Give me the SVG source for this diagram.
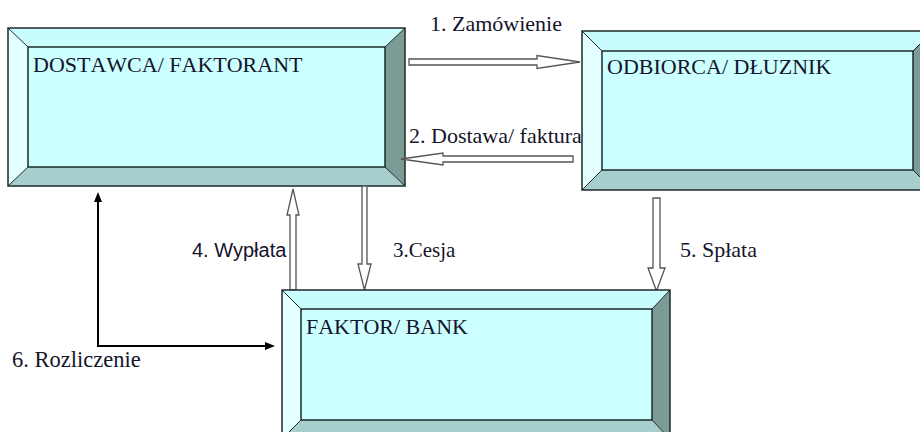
<svg xmlns="http://www.w3.org/2000/svg" width="920" height="432" viewBox="0 0 920 432">
<style>
.top{fill:#c9fdfd}
.left{fill:#e3ffff}
.right{fill:#7b9b97}
.bottom{fill:#a6cecc}
.face{fill:#ccffff}
.edge{stroke:#1e2a2a;stroke-width:1.5;stroke-linejoin:miter}
.diag{stroke:#1e2a2a;stroke-width:1;fill:none}
.serif{font-family:"Liberation Serif","Times New Roman",serif;font-size:22px;fill:#14142a}
.nk{font-kerning:none}
.sans{font-family:"Liberation Sans",Arial,sans-serif;font-size:20px;fill:#14142a}
.hollow{fill:#ffffff;stroke:#555;stroke-width:1.3;stroke-linejoin:miter}
.line{stroke:#000;stroke-width:2;fill:none}
</style>
<defs>
<marker id="ah" markerWidth="10" markerHeight="8" refX="0" refY="4" orient="auto" markerUnits="userSpaceOnUse">
<path d="M0,0 L10,4 L0,8 Z" fill="#000"/>
</marker>
</defs>
<rect width="920" height="432" fill="#ffffff"/>

<g id="node-dostawca">
<polygon class="top" points="8,28 405,28 385,47 28,47"/>
<polygon class="left" points="8,28 28,47 28,167 8,186"/>
<polygon class="right" points="405,28 405,186 385,167 385,47"/>
<polygon class="bottom" points="8,186 28,167 385,167 405,186"/>
<rect class="face edge" x="28" y="47" width="357" height="120"/>
<path class="diag" d="M8,28 L28,47 M405,28 L385,47 M8,186 L28,167 M405,186 L385,167"/>
<rect x="8" y="28" width="397" height="158" fill="none" class="edge"/>
<text class="serif nk" x="33" y="72">DOSTAWCA/ FAKTORANT</text>
</g>

<g id="connectors">
<polygon class="hollow" points="409,59 537,59 537,55.5 580,62 537,68.5 537,65 409,65"/>
<text class="serif" x="430" y="31">1. Zamówienie</text>
<polygon class="hollow" points="573,156 443,156 443,153 401,159 443,165 443,162 573,162"/>
<text class="serif" x="409" y="143">2. Dostawa/ faktura</text>
<polygon class="hollow" points="362,186 362,264 358,264 364.5,290 371,264 367,264 367,186"/>
<text class="serif" x="393" y="257" style="font-size:21px">3.Cesja</text>
<polygon class="hollow" points="290,290 290,215 287,215 293,189 299,215 296,215 296,290"/>
<text class="sans" x="192" y="257">4. Wypłata</text>
<polygon class="hollow" points="653,198 653,268 648,268 656.5,291 665,268 660,268 660,198"/>
<text class="serif" x="680" y="257">5. Spłata</text>
<path class="line" d="M98,346 V202" marker-end="url(#ah)"/>
<path class="line" d="M97,346 H265" marker-end="url(#ah)"/>
<text class="serif" x="12" y="367" style="font-size:22.5px">6. Rozliczenie</text>
</g>

<g id="node-odbiorca">
<polygon class="top" points="582,31 933,31 913,51 602,51"/>
<polygon class="left" points="582,31 602,51 602,170 582,190"/>
<polygon class="right" points="933,31 933,190 913,170 913,51"/>
<polygon class="bottom" points="582,190 602,170 913,170 933,190"/>
<rect class="face edge" x="602" y="51" width="311" height="119"/>
<path class="diag" d="M582,31 L602,51 M933,31 L913,51 M582,190 L602,170 M933,190 L913,170"/>
<rect x="582" y="31" width="351" height="159" fill="none" class="edge"/>
<text class="serif nk" x="607" y="74">ODBIORCA/ DŁUZNIK</text>
</g>

<g id="node-faktor">
<polygon class="top" points="282,290 670,290 652,309 301,309"/>
<polygon class="left" points="282,290 301,309 301,420 282,439"/>
<polygon class="right" points="670,290 670,439 652,420 652,309"/>
<polygon class="bottom" points="282,439 301,420 652,420 670,439"/>
<rect class="face edge" x="301" y="309" width="351" height="111"/>
<path class="diag" d="M282,290 L301,309 M670,290 L652,309 M282,439 L301,420 M670,439 L652,420"/>
<rect x="282" y="290" width="388" height="149" fill="none" class="edge"/>
<text class="serif nk" x="306" y="334">FAKTOR/ BANK</text>
</g>
</svg>
